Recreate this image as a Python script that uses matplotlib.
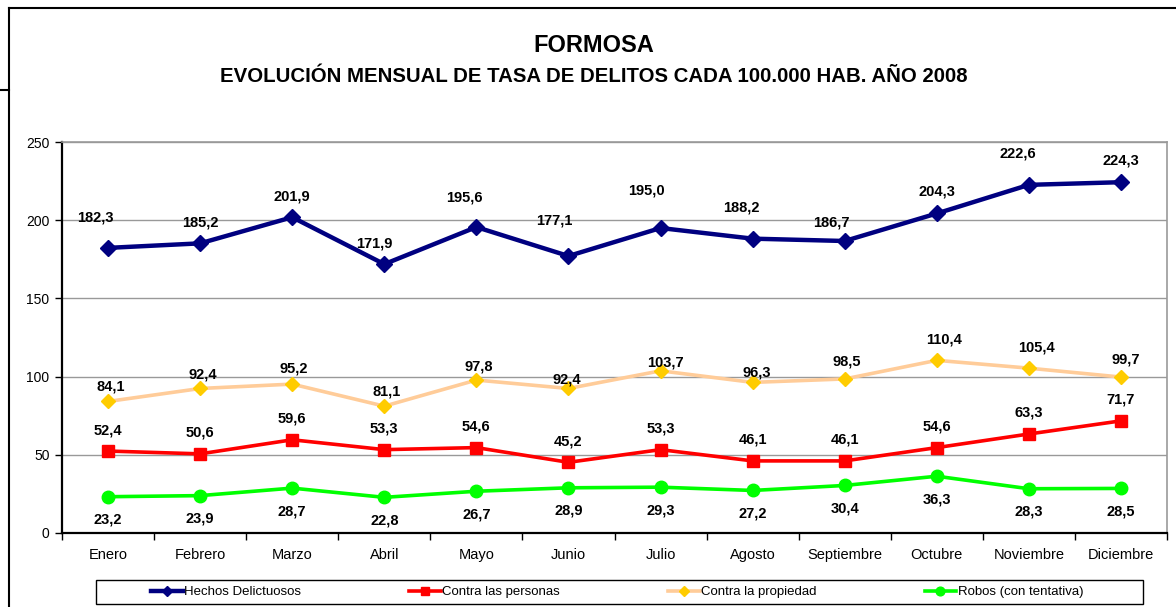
import matplotlib
matplotlib.use('Agg')
import matplotlib.pyplot as plt
from matplotlib.lines import Line2D
from matplotlib.patches import Rectangle

plt.rcParams['font.family'] = ['Liberation Sans', 'DejaVu Sans']

meses = ['Enero', 'Febrero', 'Marzo', 'Abril', 'Mayo', 'Junio', 'Julio',
         'Agosto', 'Septiembre', 'Octubre', 'Noviembre', 'Diciembre']
hechos = [182.3, 185.2, 201.9, 171.9, 195.6, 177.1, 195.0, 188.2, 186.7, 204.3, 222.6, 224.3]
personas = [52.4, 50.6, 59.6, 53.3, 54.6, 45.2, 53.3, 46.1, 46.1, 54.6, 63.3, 71.7]
propiedad = [84.1, 92.4, 95.2, 81.1, 97.8, 92.4, 103.7, 96.3, 98.5, 110.4, 105.4, 99.7]
robos = [23.2, 23.9, 28.7, 22.8, 26.7, 28.9, 29.3, 27.2, 30.4, 36.3, 28.3, 28.5]

# desplazamiento de las etiquetas (pixeles)
hechos_dx = [-13, 0, 0, -10, -12, -14, -14, -11, -13, 0, -11, 0]
hechos_dy = [30, 21, 21, 21, 30, 36, 38, 31, 19, 22, 31, 22]
prop_dx = [3, 3, 2, 2, 2, -2, 5, 4, 2, 7, 8, 5]
prop_dy = [15, 14, 16, 15, 14, 9, 8, 10, 17, 21, 21, 18]

W, H = 1176, 607
fig = plt.figure(figsize=(W / 100, H / 100), dpi=100)
ax = fig.add_axes([62 / W, 1 - 533 / H, (1167 - 62) / W, (533 - 142) / H])

x = list(range(len(meses)))

ax.plot(x, hechos, color='#000080', lw=3.2, marker='D', ms=8, zorder=5, label='Hechos Delictuosos')
ax.plot(x, personas, color='#FF0000', lw=2.6, marker='s', ms=9, zorder=5, label='Contra las personas')
ax.plot(x, propiedad, color='#FFCC99', lw=2.6, marker='D', ms=7, mfc='#FFCC00', mec='#FFCC00',
        zorder=4, label='Contra la propiedad')
ax.plot(x, robos, color='#00FF00', lw=2.6, marker='o', ms=9, zorder=5, label='Robos (con tentativa)')

def etiqueta(i, v, dx, dy):
    ax.annotate(f'{v:.1f}'.replace('.', ','), (i, v), xytext=(dx, dy), textcoords='offset pixels',
                ha='center', va='center', fontsize=10.5, fontweight='bold', zorder=6)

for i in x:
    etiqueta(i, hechos[i], hechos_dx[i], hechos_dy[i])
    etiqueta(i, propiedad[i], prop_dx[i], prop_dy[i])
    etiqueta(i, personas[i], 0, 21)
    etiqueta(i, robos[i], 0, -23)

ax.set_xlim(-0.5, 11.5)
ax.set_ylim(0, 250)
ax.set_yticks([0, 50, 100, 150, 200, 250])
ax.yaxis.grid(True, color='#999999', lw=1)
ax.set_axisbelow(True)

ax.set_xticks(x)
ax.set_xticklabels(meses, fontsize=10.5)
ax.set_xticks([i - 0.5 for i in range(13)], minor=True)
ax.tick_params(axis='x', which='major', length=0, pad=11)
ax.tick_params(axis='x', which='minor', length=5, width=1, direction='out')
ax.tick_params(axis='y', length=5, width=1, direction='out', labelsize=10, pad=4)

for s in ['top', 'right']:
    ax.spines[s].set_color('#999999')
    ax.spines[s].set_linewidth(1.2)
for s in ['left', 'bottom']:
    ax.spines[s].set_color('#000000')
    ax.spines[s].set_linewidth(1.6)

fig.text(0.505, 1 - 46 / H, 'FORMOSA', ha='center', va='center', fontsize=17, fontweight='bold')
fig.text(0.505, 1 - 76 / H, 'EVOLUCIÓN MENSUAL DE TASA DE DELITOS CADA 100.000 HAB. AÑO 2008',
         ha='center', va='center', fontsize=14.7, fontweight='bold')

# marco exterior
fig.add_artist(Line2D([9 / W, 1], [1 - 8 / H, 1 - 8 / H], color='black', lw=1.5))
fig.add_artist(Line2D([9 / W, 9 / W], [0, 1 - 8 / H], color='black', lw=1.5))
fig.add_artist(Line2D([0, 9 / W], [1 - 90 / H, 1 - 90 / H], color='black', lw=1.5))

# leyenda
fig.add_artist(Rectangle((96 / W, 1 - 604 / H), (1143 - 96) / W, 24 / H, fill=False,
                         edgecolor='black', lw=1))
leg = fig.legend(loc='center', bbox_to_anchor=(617 / W, 1 - 592 / H), ncol=4, frameon=False,
                 prop={'family': ['Liberation Sans Narrow', 'Liberation Sans'], 'size': 9.5},
                 handlelength=2.4, handletextpad=0.1, columnspacing=8.2, markerscale=0.7)

fig.savefig('out.png', dpi=100)
